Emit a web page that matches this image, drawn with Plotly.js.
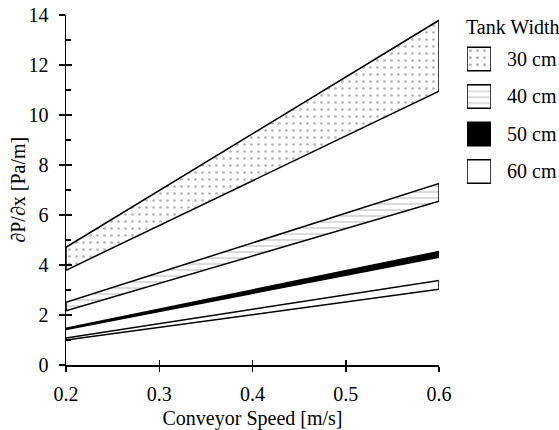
<!DOCTYPE html>
<html>
<head>
<meta charset="utf-8">
<script src="https://cdn.plot.ly/plotly-3.0.1.min.js"></script>
<style>html,body{margin:0;padding:0;background:#fff;}#chart{width:559px;height:430px;}</style>
</head>
<body>
<div id="chart"></div>
<script>
// Data
const speeds = [0.2, 0.6];
const widths = ['30 cm', '40 cm', '50 cm', '60 cm'];
const upper30 = [4.71, 13.79];
const lower30 = [3.79, 10.95];
const upper40 = [2.51, 7.26];
const lower40 = [2.17, 6.55];
const upper50 = [1.47, 4.54];
const lower50 = [1.42, 4.31];
const upper60 = [1.08, 3.38];
const lower60 = [1.00, 3.03];

// Styles
const fills = ['white', 'white', 'black', 'white'];
const shapes = ['.', '-', '', ''];
const fgs = ['#666', '#333', 'black', 'black'];
const sizes = [7, 6, 6, 6];
const solids = [0.12, 0.12, 0.1, 0.1];
const FONT = 'Liberation Serif, Times New Roman, serif';
const FS = 20;

const bands = [[lower30, upper30], [lower40, upper40], [lower50, upper50], [lower60, upper60]];

const traces = bands.map((b, i) => {
  const t = {
    type: 'scatter',
    x: speeds.concat(speeds.slice().reverse(), [speeds[0]]),
    y: b[0].concat(b[1].slice().reverse(), [b[0][0]]),
    mode: 'lines',
    fill: 'toself',
    fillcolor: fills[i],
    line: {color: 'black', width: 1.5},
    xaxis: i === 3 ? 'x2' : 'x',
    yaxis: i === 3 ? 'y2' : 'y',
    showlegend: false,
    hoverinfo: 'skip',
    cliponaxis: false
  };
  if (shapes[i]) {
    t.fillpattern = {shape: shapes[i], size: sizes[i], solidity: solids[i], fgcolor: fgs[i], bgcolor: 'white', fillmode: 'overlay'};
  }
  return t;
});

traces.push({
  type: 'bar',
  orientation: 'h',
  y: widths,
  x: widths.map(() => 1),
  xaxis: 'x3',
  yaxis: 'y3',
  marker: {
    color: fills,
    line: {color: 'black', width: 1.5},
    pattern: {shape: shapes, size: sizes, solidity: solids, fgcolor: fgs, fillmode: 'overlay'}
  },
  showlegend: false,
  hoverinfo: 'skip'
});

const tf = {family: FONT, size: FS, color: 'black'};

const layout = {
  width: 559, height: 430,
  margin: {l: 66, r: 0, t: 15, b: 65},
  paper_bgcolor: 'white', plot_bgcolor: 'white',
  font: tf,
  showlegend: false,
  bargap: 0.373,
  xaxis: {
    domain: [0, 0.7566], range: [0.2, 0.6], tick0: 0.2, dtick: 0.1, tickformat: '.1f',
    ticks: 'outside', ticklen: 5, tickwidth: 1.5, tickcolor: 'black',
    showline: true, linewidth: 1.5, linecolor: 'black', showgrid: false, zeroline: false,
    tickfont: tf, ticklabelstandoff: 5, title: {text: 'Conveyor Speed [m/s]', font: tf, standoff: 10}
  },
  xaxis2: {
    overlaying: 'x', anchor: 'y2', range: [0.2, 0.6], tick0: 0.2, dtick: 0.1,
    ticks: 'inside', ticklen: 5, tickwidth: 1.5, tickcolor: 'black',
    showticklabels: false, showline: false, showgrid: false, zeroline: false
  },
  yaxis: {
    range: [0, 14], dtick: 2, ticks: 'outside', ticklen: 6, tickwidth: 1.5, tickcolor: 'black',
    showline: true, linewidth: 1.5, linecolor: 'black', showgrid: false, zeroline: false,
    tickfont: tf, ticklabelstandoff: 6
  },
  yaxis2: {
    overlaying: 'y', anchor: 'x2', range: [0, 14], dtick: 2,
    ticks: 'inside', ticklen: 6, tickwidth: 1.5, tickcolor: 'black',
    minor: {ticks: 'inside', ticklen: 5, dtick: 1, tickwidth: 1.5, tickcolor: 'black'},
    showticklabels: false, showline: false, showgrid: false, zeroline: false
  },
  xaxis3: {domain: [0.8134, 0.8621], anchor: 'y3', range: [0, 1], visible: false},
  yaxis3: {
    domain: [0.4993, 0.9279], anchor: 'x3', side: 'right', type: 'category', range: [3.5, -0.5],
    showline: false, showgrid: false, zeroline: false, ticks: '', tickfont: tf, ticklabelstandoff: 15
  },
  annotations: [{
    text: 'Tank Width', xref: 'paper', yref: 'paper', x: 0.807, y: 0.966,
    xanchor: 'left', yanchor: 'middle', showarrow: false, font: tf
  }, {
    text: '∂P/∂x [Pa/m]', xref: 'paper', yref: 'paper', x: -0.098, y: 0.5,
    xanchor: 'center', yanchor: 'middle', textangle: -90, showarrow: false, font: tf
  }]
};

Plotly.newPlot('chart', traces, layout, {staticPlot: true, displayModeBar: false});
</script>
</body>
</html>
